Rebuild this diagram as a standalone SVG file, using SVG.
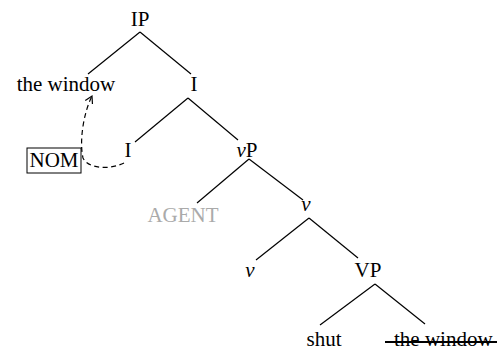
<svg xmlns="http://www.w3.org/2000/svg" width="497" height="350" viewBox="0 0 497 350">
<style>
text{font-family:"Liberation Serif","Times New Roman",serif;font-size:21px;fill:#000;text-anchor:middle}
.e{stroke:#000;stroke-width:1.2;fill:none}
.i{font-style:italic}
</style>
<defs>
<marker id="ah" markerWidth="10" markerHeight="10" refX="8" refY="5" orient="auto" markerUnits="userSpaceOnUse">
<path d="M1,1 L8,5 L1,9" fill="none" stroke="#000" stroke-width="1.2"/>
</marker>
</defs>
<rect width="497" height="350" fill="#fff"/>
<g id="connectors">
<line class="e" x1="140" y1="32" x2="88" y2="74"/>
<line class="e" x1="140" y1="32" x2="191" y2="74"/>
<line class="e" x1="188" y1="98" x2="135" y2="142"/>
<line class="e" x1="188" y1="98" x2="238" y2="140"/>
<line class="e" x1="249" y1="159" x2="197" y2="203"/>
<line class="e" x1="249" y1="159" x2="303" y2="200"/>
<line class="e" x1="309" y1="218" x2="256" y2="260"/>
<line class="e" x1="309" y1="218" x2="358" y2="258"/>
<line class="e" x1="375" y1="284" x2="320" y2="325"/>
<line class="e" x1="375" y1="284" x2="425" y2="324"/>
<path class="e" d="M124,163 C110,170 88,169 83,158 C79,140 84,112 92,96" stroke-dasharray="5,3.5" marker-end="url(#ah)"/>
</g>
<g id="IP"><text x="140" y="26" font-family="Liberation Serif, serif">IP</text></g>
<g id="the-window"><text x="66" y="91" font-family="Liberation Serif, serif">the window</text></g>
<g id="I-bar"><text x="194" y="91" font-family="Liberation Serif, serif">I</text></g>
<g id="I"><text x="128" y="157" font-family="Liberation Serif, serif">I</text></g>
<g id="vP"><text x="247" y="157" font-family="Liberation Serif, serif"><tspan class="i">v</tspan>P</text></g>
<g id="NOM"><rect x="27" y="148" width="54" height="25" fill="none" stroke="#000" stroke-width="1"/><text x="54" y="167" font-family="Liberation Serif, serif">NOM</text></g>
<g id="AGENT"><text x="183" y="222" style="fill:#aaaaaa" font-family="Liberation Serif, serif">AGENT</text></g>
<g id="v-bar"><text x="306" y="211" class="i" font-family="Liberation Serif, serif">v</text></g>
<g id="v"><text x="250" y="277" class="i" font-family="Liberation Serif, serif">v</text></g>
<g id="VP"><text x="368" y="277" font-family="Liberation Serif, serif">VP</text></g>
<g id="shut"><text x="324" y="346" font-family="Liberation Serif, serif">shut</text></g>
<g id="the-window-trace"><text x="394" y="346" style="text-anchor:start" font-family="Liberation Serif, serif">the window</text><line x1="385" y1="342" x2="497" y2="342" stroke="#000" stroke-width="2"/></g>
</svg>
